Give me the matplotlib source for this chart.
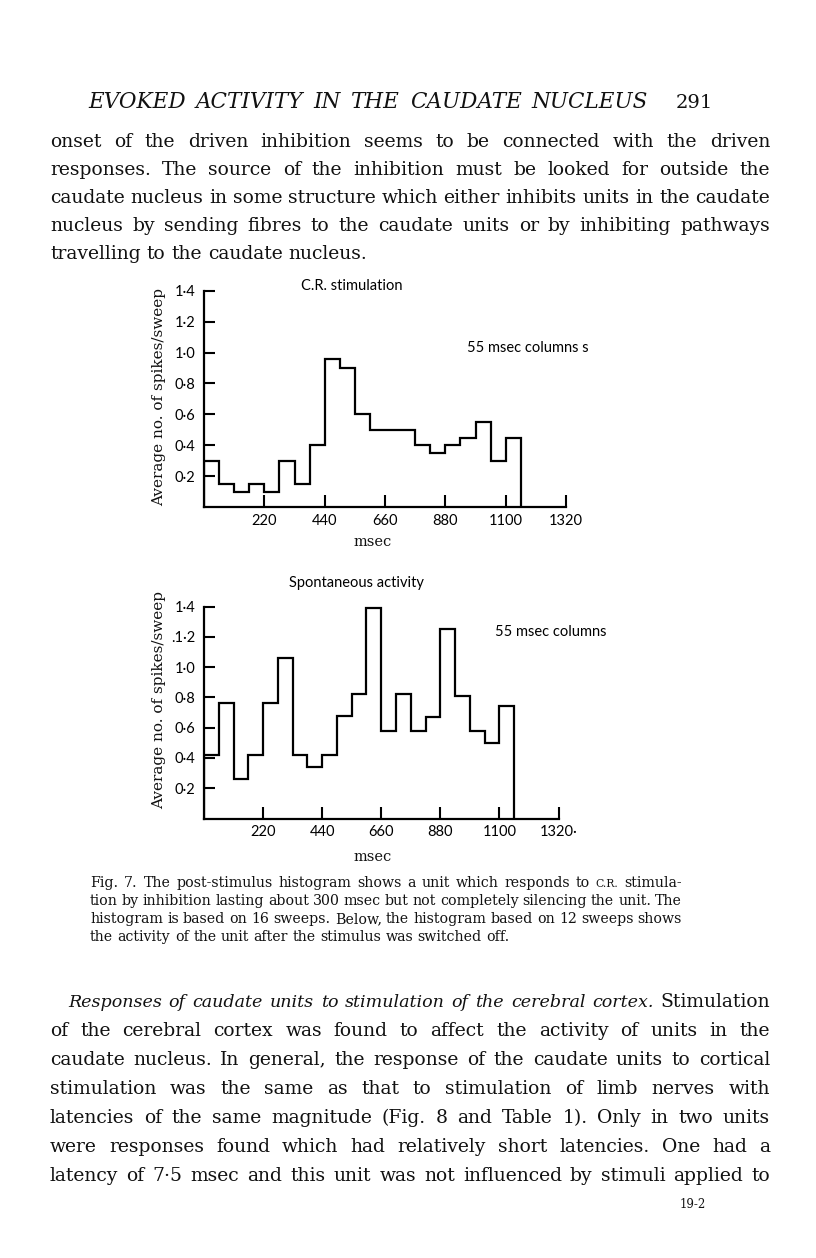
import matplotlib
matplotlib.use("Agg")
import matplotlib.pyplot as plt
import numpy as np

W, H = 816, 1258

# histogram data, 55 msec columns
bin_width = 55
cr_values = [0.30, 0.15, 0.10, 0.15, 0.10, 0.30, 0.15, 0.40, 0.96, 0.90, 0.60,
             0.50, 0.50, 0.50, 0.40, 0.35, 0.40, 0.45, 0.55, 0.30, 0.45]
spont_values = [0.42, 0.76, 0.26, 0.42, 0.76, 1.06, 0.42, 0.34, 0.42, 0.68, 0.82,
                1.39, 0.58, 0.82, 0.58, 0.67, 1.25, 0.81, 0.58, 0.50, 0.74]
x_ticks = [220, 440, 660, 880, 1100, 1320]
y_ticks = [0.2, 0.4, 0.6, 0.8, 1.0, 1.2, 1.4]
y_labels_top = ["0·2", "0·4", "0·6", "0·8", "1·0", "1·2", "1·4"]
y_labels_bot = ["0·2", "0·4", "0·6", "0·8", "1·0", ".1·2", "1·4"]
x_labels_top = ["220", "440", "660", "880", "1100", "1320"]
x_labels_bot = ["220", "440", "660", "880", "1100", "1320·"]

header = "EVOKED ACTIVITY IN THE CAUDATE NUCLEUS"
page_no = "291"
para_top = [
    "onset of the driven inhibition seems to be connected with the driven",
    "responses. The source of the inhibition must be looked for outside the",
    "caudate nucleus in some structure which either inhibits units in the caudate",
    "nucleus by sending fibres to the caudate units or by inhibiting pathways",
    "travelling to the caudate nucleus.",
]
caption = [
    "Fig. 7. The post-stimulus histogram shows a unit which responds to C.R. stimula-",
    "tion by inhibition lasting about 300 msec but not completely silencing the unit. The",
    "histogram is based on 16 sweeps. Below, the histogram based on 12 sweeps shows",
    "the activity of the unit after the stimulus was switched off.",
]
para_bot_italic = "Responses of caudate units to stimulation of the cerebral cortex."
para_bot = [
    "Stimulation",
    "of the cerebral cortex was found to affect the activity of units in the",
    "caudate nucleus. In general, the response of the caudate units to cortical",
    "stimulation was the same as that to stimulation of limb nerves with",
    "latencies of the same magnitude (Fig. 8 and Table 1). Only in two units",
    "were responses found which had relatively short latencies. One had a",
    "latency of 7·5 msec and this unit was not influenced by stimuli applied to",
]

SERIF = "DejaVu Serif"
SANS = "Lato"

fig = plt.figure(figsize=(W / 100, H / 100), dpi=100)
fig.patch.set_facecolor("white")
renderer = fig.canvas.get_renderer()


def fx(px):
    return px / W


def fy(py):
    return 1 - py / H


def put_line(words, x0, x1, base, justify=True, **kw):
    # words: list of (text, extra kwargs); spread them from x0 to x1
    texts = []
    for w, extra in words:
        opts = dict(kw)
        opts.update(extra)
        texts.append(fig.text(0, fy(base), w, va="baseline", ha="left", **opts))
    widths = [t.get_window_extent(renderer).width for t in texts]
    if justify and len(texts) > 1:
        gap = (x1 - x0 - sum(widths)) / (len(texts) - 1)
    else:
        sp = fig.text(0, 0, "a a", **kw)
        sp2 = fig.text(0, 0, "aa", **kw)
        gap = sp.get_window_extent(renderer).width - sp2.get_window_extent(renderer).width
        sp.remove()
        sp2.remove()
    x = x0
    for t, w in zip(texts, widths):
        t.set_x(fx(x))
        x += w + gap


# header
put_line([(w, {}) for w in header.split()], 88, 648, 108,
         family=SERIF, style="italic", fontsize=15.5, color="#111111")
fig.text(fx(676), fy(108), page_no, family=SERIF, fontsize=14, va="baseline",
         color="#111111")

# top paragraph
body_kw = dict(family=SERIF, fontsize=13.5, color="#111111")
for i, line in enumerate(para_top):
    last = i == len(para_top) - 1
    put_line([(w, {}) for w in line.split()], 50, 770, 147 + 28 * i,
             justify=not last, **body_kw)


def histogram(rect, values, xlabels, ylabels):
    ax = fig.add_axes(rect)
    edges = np.arange(len(values) + 1) * bin_width
    ax.stairs(values, edges, baseline=0, color="black", lw=1.6)
    ax.set_xlim(0, 1320)
    ax.set_ylim(0, 1.4)
    ax.set_xticks(x_ticks)
    ax.set_xticklabels(xlabels)
    ax.set_yticks(y_ticks)
    ax.set_yticklabels(ylabels)
    ax.tick_params(direction="in", width=1.5, colors="black", labelsize=10.5)
    ax.tick_params(axis="x", length=9, pad=5)
    ax.tick_params(axis="y", length=8, pad=6)
    for lab in ax.get_xticklabels() + ax.get_yticklabels():
        lab.set_family(SANS)
    for s in ("top", "right"):
        ax.spines[s].set_visible(False)
    for s in ("left", "bottom"):
        ax.spines[s].set_linewidth(1.6)
    ax.patch.set_alpha(0)
    return ax


# top histogram
ax1 = histogram([fx(204), fy(507.5), (566 - 204) / W, 217 / H],
                cr_values, x_labels_top, y_labels_top)
fig.text(fx(352), fy(286), "C.R. stimulation", family=SANS, fontsize=10.5,
         ha="center", va="center")
fig.text(fx(467), fy(348), "55 msec columns s", family=SANS, fontsize=10.5,
         ha="left", va="center")
fig.text(fx(159), fy(397), "Average no. of spikes/sweep", family=SERIF,
         fontsize=11, rotation=90, ha="center", va="center", color="#111111")
fig.text(fx(373), fy(542), "msec", family=SERIF, fontsize=10.5,
         ha="center", va="center", color="#111111")

# bottom histogram
ax2 = histogram([fx(204), fy(818.5), (558.5 - 204) / W, 212 / H],
                spont_values, x_labels_bot, y_labels_bot)
fig.text(fx(356), fy(583), "Spontaneous activity", family=SANS, fontsize=10.5,
         ha="center", va="center")
fig.text(fx(495), fy(632), "55 msec columns", family=SANS, fontsize=10.5,
         ha="left", va="center")
fig.text(fx(159), fy(700), "Average no. of spikes/sweep", family=SERIF,
         fontsize=11, rotation=90, ha="center", va="center", color="#111111")
fig.text(fx(373), fy(857), "msec", family=SERIF, fontsize=10.5,
         ha="center", va="center", color="#111111")

# caption
cap_kw = dict(family=SERIF, fontsize=10.2, color="#111111")
for i, line in enumerate(caption):
    last = i == len(caption) - 1
    words = []
    for w in line.split():
        words.append((w, {"fontsize": 7.8} if w == "C.R." else {}))
    put_line(words, 90, 682, 887 + 18 * i, justify=not last, **cap_kw)

# bottom paragraph
first = [(w, {"style": "italic", "fontsize": 12.6}) for w in para_bot_italic.split()]
first += [(para_bot[0], {})]
put_line(first, 68, 770, 1007, **body_kw)
for i, line in enumerate(para_bot[1:]):
    put_line([(w, {}) for w in line.split()], 50, 770, 1036 + 29 * i, **body_kw)

fig.text(fx(680), fy(1208), "19-2", family=SERIF, fontsize=8.5, va="baseline",
         color="#111111")

fig.savefig("out.png", dpi=100, facecolor="white")
